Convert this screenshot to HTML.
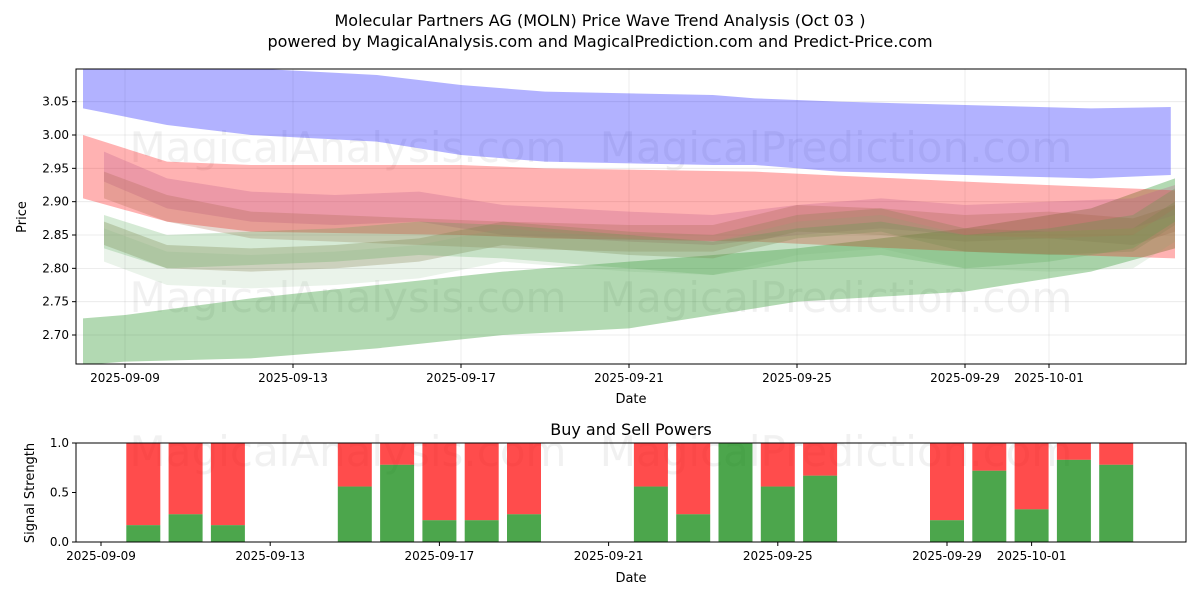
<!DOCTYPE html>
<html><head><meta charset="utf-8"><style>
body{margin:0;background:#fff;font-family:"Liberation Sans","DejaVu Sans",sans-serif}
svg text{font-family:"DejaVu Sans","Liberation Sans",sans-serif}
</style></head><body>
<svg id="chart" width="1200" height="600" viewBox="0 0 1200 600" xmlns="http://www.w3.org/2000/svg">
<text x="600" y="26" text-anchor="middle" font-size="16">Molecular Partners AG (MOLN) Price Wave Trend Analysis (Oct 03 )</text>
<text x="600" y="47" text-anchor="middle" font-size="16">powered by MagicalAnalysis.com and MagicalPrediction.com and Predict-Price.com</text>
<g id="topPanel"></g>
<g id="botPanel"></g>
</svg>
<script>
// ---- data ----
const xTickLabels=["2025-09-09","2025-09-13","2025-09-17","2025-09-21","2025-09-25","2025-09-29","2025-10-01"];
const xTickDays=[0,4,8,12,16,20,22];
const yTicks=[2.70,2.75,2.80,2.85,2.90,2.95,3.00,3.05];
const blueDays=[-1,1,3,6,8,10,14,15,17,20,23,24.9];
const blueUpper=[3.11,3.105,3.10,3.09,3.075,3.065,3.06,3.055,3.05,3.045,3.04,3.042];
const blueLower=[3.04,3.015,3.00,2.99,2.97,2.96,2.955,2.955,2.945,2.94,2.935,2.94];
const redDays=[-1,1,3,8,10,15,20,25];
const redUpper=[3.00,2.96,2.955,2.955,2.95,2.945,2.93,2.917];
const redLower=[2.905,2.87,2.855,2.85,2.845,2.84,2.825,2.815];
const greenDays=[-1,0,3,6,9,12,16,20,23,25];
const greenUpper=[2.725,2.73,2.755,2.775,2.795,2.81,2.83,2.86,2.89,2.935];
const greenLower=[2.655,2.66,2.665,2.68,2.70,2.71,2.75,2.765,2.795,2.83];
const midDays=[-0.5,1,3,5,7,9,12,14,16,18,20,22,24,25];
const midA=[2.94,2.90,2.88,2.875,2.88,2.86,2.85,2.845,2.86,2.87,2.86,2.865,2.87,2.89];
const midB=[2.86,2.825,2.82,2.825,2.835,2.86,2.845,2.84,2.87,2.88,2.85,2.845,2.85,2.89];
const midC=[2.93,2.895,2.87,2.865,2.86,2.855,2.85,2.85,2.88,2.875,2.865,2.87,2.86,2.88];
const midD=[2.86,2.83,2.835,2.84,2.85,2.845,2.83,2.82,2.84,2.85,2.83,2.84,2.86,2.90];
const powerDays=[1,2,3,6,7,8,9,10,13,14,15,16,17,20,21,22,23,24];
const buyPower=[0.17,0.28,0.17,0.56,0.78,0.22,0.22,0.28,0.56,0.28,1.0,0.56,0.67,0.22,0.72,0.33,0.83,0.78];
const botTicks=[0,0.5,1.0];
const botTickLabels=["0.0","0.5","1.0"];
// ---- axes ----
const NS="http://www.w3.org/2000/svg";
const T={l:76,r:1186,t:69,b:364};
const B={l:76,r:1186,t:443,b:542};
const xT=d=>125+d*42;
const yT=v=>135-(v-3.0)*666.7;
const xB=d=>101+d*42.3;
const yB=v=>542-v*99;
function mk(p,tag,a){const e=document.createElementNS(NS,tag);for(const k in a)e.setAttribute(k,a[k]);p.appendChild(e);return e;}
const topG=document.getElementById('topPanel'),botG=document.getElementById('botPanel');
const clip=mk(document.getElementById('chart'),'clipPath',{id:'tc'});
mk(clip,'rect',{x:T.l,y:T.t,width:T.r-T.l,height:T.b-T.t});
xTickDays.forEach((d,i)=>{
 const g=mk(topG,'line',{x1:xT(d),x2:xT(d),y1:T.t,y2:T.b,stroke:'#b0b0b0','stroke-width':0.8,'stroke-opacity':0.3});
 
 
 mk(topG,'line',{x1:xT(d),x2:xT(d),y1:T.b,y2:T.b+4,stroke:'#000'});
 const t=mk(topG,'text',{x:xT(d),y:T.b+18,'text-anchor':'middle','font-size':12});t.textContent=xTickLabels[i];
 
 
});
yTicks.forEach(v=>{
 mk(topG,'line',{x1:T.l,x2:T.r,y1:yT(v),y2:yT(v),stroke:'#b0b0b0','stroke-width':0.8,'stroke-opacity':0.3});
 mk(topG,'line',{x1:T.l-4,x2:T.l,y1:yT(v),y2:yT(v),stroke:'#000'});
 const t=mk(topG,'text',{x:T.l-7,y:yT(v)+4,'text-anchor':'end','font-size':12});t.textContent=v.toFixed(2);
 
 
});
[[348,148],[836,148],[348,298],[836,298],[348,452],[836,452]].forEach(p=>{
 const t=mk(p[1]>400?botG:topG,'text',{x:p[0],y:p[1]+14,'text-anchor':'middle','font-size':42,fill:'#888','fill-opacity':0.12});
 t.textContent=p[0]<500?'MagicalAnalysis.com':'MagicalPrediction.com';
 
 
});
const bands=mk(topG,'g',{'clip-path':'url(#tc)'});
function band(days,up,lo,col,op,name){
 let d='M'+days.map((x,i)=>xT(x)+','+yT(up[i])).join('L');
 d+='L'+days.map((x,i)=>xT(x)+','+yT(lo[i])).reverse().join('L')+'Z';
 const p=mk(bands,'path',{d:d,fill:col,'fill-opacity':op});
 
 
}
function off(arr,o){return arr.map(v=>v+o);}
band(blueDays,blueUpper,blueLower,'#0000ff',0.3,'blue-band');
band(greenDays,greenUpper,greenLower,'#008000',0.3,'green-wide-band');
band(redDays,redUpper,redLower,'#ff0000',0.3,'red-band');
band(midDays,off(midA,0.035),off(midA,-0.01),'#c06090',0.3,'pink-band');
band(midDays,off(midC,0.015),off(midC,-0.025),'#a06040',0.25,'brown-band');
band(midDays,off(midB,0.01),off(midB,-0.025),'#8b7d50',0.3,'tan-band');
band(midDays,off(midD,0.02),off(midD,-0.03),'#40a040',0.22,'green-band');
band(midDays,off(midB,0.0),off(midB,-0.05),'#70b070',0.15,'light-green-band');
mk(topG,'rect',{x:T.l,y:T.t,width:T.r-T.l,height:T.b-T.t,fill:'none',stroke:'#000','stroke-width':1});
let t=mk(topG,'text',{x:631,y:403,'text-anchor':'middle','font-size':13});t.textContent='Date';


t=mk(topG,'text',{x:26,y:217,'text-anchor':'middle','font-size':13,transform:'rotate(-90 26 217)'});t.textContent='Price';


t=mk(botG,'text',{x:631,y:435,'text-anchor':'middle','font-size':16});t.textContent='Buy and Sell Powers';


powerDays.forEach((d,i)=>{
 const w=34,x=xB(d)-w/2;
 const r=mk(botG,'rect',{x:x,y:yB(1),width:w,height:yB(buyPower[i])-yB(1),fill:'#ff0000','fill-opacity':0.7});
 
 
 const g=mk(botG,'rect',{x:x,y:yB(buyPower[i]),width:w,height:yB(0)-yB(buyPower[i]),fill:'#008000','fill-opacity':0.7});
 
 
});
xTickDays.forEach((d,i)=>{
 mk(botG,'line',{x1:xB(d),x2:xB(d),y1:B.b,y2:B.b+4,stroke:'#000'});
 const t=mk(botG,'text',{x:xB(d),y:B.b+18,'text-anchor':'middle','font-size':12});t.textContent=xTickLabels[i];
 
 
});
botTicks.forEach((v,i)=>{
 mk(botG,'line',{x1:B.l-4,x2:B.l,y1:yB(v),y2:yB(v),stroke:'#000'});
 const t=mk(botG,'text',{x:B.l-7,y:yB(v)+4,'text-anchor':'end','font-size':12});t.textContent=botTickLabels[i];
 
 
});
mk(botG,'rect',{x:B.l,y:B.t,width:B.r-B.l,height:B.b-B.t,fill:'none',stroke:'#000','stroke-width':1});
t=mk(botG,'text',{x:631,y:582,'text-anchor':'middle','font-size':13});t.textContent='Date';


t=mk(botG,'text',{x:34,y:493,'text-anchor':'middle','font-size':13,transform:'rotate(-90 34 493)'});t.textContent='Signal Strength';


</script>
</body></html>
